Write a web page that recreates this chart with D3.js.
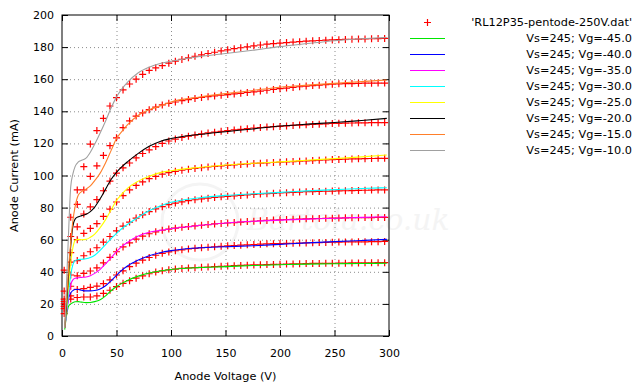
<!DOCTYPE html>
<html>
<head>
<meta charset="utf-8">
<script src="https://cdn.jsdelivr.net/npm/d3@7"></script>
<style>
body { margin: 0; background: #fff; }
text { font-family: "DejaVu Sans", Verdana, sans-serif; }
</style>
</head>
<body>
<div id="chart"></div>
<script>
// Constantes

const width = 640
const height = 387
const margin = {top: 15, bottom: 51, left: 62, right: 251}

// Datos

const xTicks = [0, 50, 100, 150, 200, 250, 300]
const yTicks = [0, 20, 40, 60, 80, 100, 120, 140, 160, 180, 200]

// tensiones de las medidas (cruces)
const measV = [2, 8, 14, 20, 26, 32, 38, 44, 50, 56, 62, 68, 74, 80, 86, 92, 98, 104, 110, 116,
  122, 128, 134, 140, 146, 152, 158, 164, 170, 176, 182, 188, 194, 200, 206, 212, 218, 224, 230, 236,
  242, 248, 254, 260, 266, 272, 278, 284, 290, 296]

const measG45 = [14, 23, 24, 24.3, 24.3, 25, 26.5, 28.5, 30.8, 32.8, 34.5, 36, 37.5, 38.8, 39.8, 40.6, 41.2, 41.7, 42.1, 42.4,
  42.6, 42.8, 43, 43.2, 43.4, 43.6, 43.8, 44, 44.1, 44.3, 44.4, 44.5, 44.6, 44.7, 44.8, 44.9, 45, 45.1, 45.2, 45.2,
  45.3, 45.3, 45.4, 45.4, 45.5, 45.5, 45.6, 45.6, 45.7, 45.7]
const measG40 = [17, 25, 29, 29.5, 30.3, 31.1, 32.6, 35, 38, 40.6, 43.2, 45.4, 47.3, 48.9, 50.3, 51.5, 52.4, 53.1, 53.7, 54.2,
  54.6, 55, 55.3, 55.6, 55.9, 56.2, 56.4, 56.6, 56.8, 57, 57.2, 57.4, 57.5, 57.6, 57.7, 57.8, 57.9, 58, 58.1, 58.2,
  58.3, 58.4, 58.5, 58.6, 58.6, 58.7, 58.7, 58.8, 58.8, 58.9]
const measG35 = [18.5, 31, 37.5, 39, 40.5, 42.5, 45.5, 49, 52.5, 55.5, 58, 60.3, 62.2, 63.7, 64.9, 65.9, 66.6, 67.2, 67.7, 68.2,
  68.6, 69, 69.4, 69.8, 70.1, 70.4, 70.7, 71, 71.3, 71.5, 71.8, 72, 72.2, 72.4, 72.6, 72.7, 72.9, 73, 73.1, 73.2,
  73.3, 73.4, 73.5, 73.6, 73.7, 73.7, 73.8, 73.8, 73.9, 73.9]
const measG30 = [20, 38, 47, 50, 52.5, 55, 58.5, 62, 65.5, 68.5, 71, 73.5, 75.5, 77.5, 79.2, 80.6, 81.8, 82.8, 83.6, 84.3,
  84.9, 85.4, 85.9, 86.3, 86.7, 87, 87.3, 87.6, 87.9, 88.2, 88.5, 88.7, 88.9, 89.1, 89.3, 89.5, 89.7, 89.9, 90, 90.1,
  90.2, 90.3, 90.4, 90.5, 90.6, 90.7, 90.8, 90.9, 91, 91]
const measG25 = [21.5, 46, 60, 64, 67, 70, 74.5, 79, 83.5, 87.5, 91, 93.8, 96, 98, 99.5, 100.8, 101.8, 102.6, 103.3, 103.9,
  104.4, 104.9, 105.3, 105.7, 106, 106.3, 106.6, 106.9, 107.2, 107.5, 107.7, 107.9, 108.1, 108.3, 108.5, 108.7, 108.9, 109.1, 109.3, 109.5,
  109.7, 109.9, 110, 110.2, 110.3, 110.4, 110.5, 110.6, 110.7, 110.7]
const measG20 = [23, 52, 68, 76, 80.5, 85, 90.5, 96.5, 101.5, 104.8, 107.8, 111, 113.7, 116, 118, 120, 121.5, 122.7, 123.7, 124.5,
  125.2, 125.9, 126.5, 127, 127.5, 128, 128.4, 128.8, 129.2, 129.6, 129.9, 130.2, 130.4, 130.6, 130.9, 131.2, 131.4, 131.6, 131.8, 132,
  132.2, 132.4, 132.5, 132.6, 132.7, 132.8, 132.8, 132.9, 132.9, 133]
const measG15 = [28, 62, 82, 91, 99.5, 106, 112.5, 118.6, 123.5, 129.8, 134, 137, 139, 141, 142.6, 144, 145, 145.8, 146.6, 147.3,
  148, 148.6, 149.1, 149.6, 150, 150.4, 150.8, 151.2, 151.7, 152.1, 152.6, 153.1, 153.6, 154.1, 154.5, 154.9, 155.3, 155.7, 156, 156.3,
  156.6, 156.9, 157.1, 157.2, 157.3, 157.4, 157.5, 157.5, 157.6, 157.6]
const measG10 = [41, 74, 91, 105.5, 119.6, 128, 135.6, 143.3, 148.5, 153.3, 157, 160, 163, 165.5, 167.1, 168.5, 170, 171.2, 172.3, 173.3,
  174.3, 175.2, 176, 176.8, 177.6, 178.3, 179, 179.6, 180.2, 180.8, 181.3, 181.8, 182.2, 182.5, 182.8, 183.1, 183.4, 183.7, 183.9, 184.1,
  184.3, 184.5, 184.6, 184.8, 184.9, 185, 185.1, 185.2, 185.3, 185.4]

// tensiones del modelo (líneas)
const modelV = [2.5, 4, 6, 8, 10, 12, 15, 18, 22, 26, 30, 35, 40, 45, 50, 55, 60, 70, 80, 90,
  100, 125, 150, 175, 200, 225, 250, 275, 298]

const modelG45 = [4, 12, 18.5, 20, 20.8, 21.3, 21.4, 21.1, 20.8, 20.9, 21.4, 22.6, 25, 28.2, 30.8, 32.8, 34.6, 37.3, 39.2, 40.5,
  41.4, 42.6, 43.2, 43.9, 44.4, 44.8, 45, 45.2, 45.3]
const modelG40 = [5, 14, 23.5, 26.8, 28.3, 29, 29, 28.5, 28.1, 28.1, 28.3, 29.3, 31.3, 34.4, 37.8, 41, 43.6, 47.3, 50, 51.9,
  53.2, 54.9, 55.6, 56.2, 57.1, 58, 58.8, 59.5, 60.2]
const modelG35 = [5, 13, 24, 32, 35, 36, 36.3, 36.5, 36.8, 37.6, 39, 41.5, 45, 48.7, 52.5, 55.8, 58.3, 62.3, 64.6, 65.8,
  66.8, 68.8, 70.4, 71.5, 72.2, 72.8, 73.4, 73.9, 74.3]
const modelG30 = [5, 14, 27, 38, 44.5, 47, 47.6, 47.8, 48.1, 48.9, 50.3, 53.3, 57, 60.5, 64, 67, 69.5, 74, 78, 81,
  83.3, 86, 87.6, 88.6, 89.5, 90.4, 91.2, 91.9, 92.4]
const modelG25 = [5, 16, 32, 46, 55, 59.5, 60.2, 60, 60.2, 61.5, 63.5, 67.5, 72.5, 78.5, 84.5, 88.5, 92, 96.5, 99.5, 101.8,
  103, 105, 106.5, 107.6, 108.5, 109.5, 110.5, 111.6, 112.8]
const modelG20 = [5, 18, 38, 56, 68.5, 72.8, 74.3, 75, 75.8, 77.5, 80.3, 85.5, 91.5, 97.5, 102, 105.5, 108.5, 113.8, 118.2, 121.2,
  123, 125.5, 127.3, 129, 130.8, 132, 133, 134.3, 135.6]
const modelG15 = [5, 22, 42, 58, 72, 80.5, 87.8, 90, 91.5, 93.5, 96.8, 101.5, 108, 115.5, 123, 127.5, 131.5, 137.5, 141, 143.3,
  145.8, 148.8, 151, 153, 155, 156.3, 157.4, 158.5, 159.5]
const modelG10 = [5, 30, 64, 93, 101, 105.5, 108.5, 109.5, 110.8, 114.5, 119.5, 126.5, 134, 142, 149, 154, 158, 164, 167.5, 169.8,
  171.2, 174, 176, 178, 180.3, 182.2, 184, 185.2, 186]

const dataLabel = "'RL12P35-pentode-250V.dat'"
const curveLabels = ["Vs=245; Vg=-45.0", "Vs=245; Vg=-40.0", "Vs=245; Vg=-35.0", "Vs=245; Vg=-30.0",
  "Vs=245; Vg=-25.0", "Vs=245; Vg=-20.0", "Vs=245; Vg=-15.0", "Vs=245; Vg=-10.0"]
const curveColors = ["#00e600", "#0000ff", "#ff00ff", "#00ffff", "#ffff00", "#000000", "#ff7f2a", "#a0a0a0"]

const measured = [measG45, measG40, measG35, measG30, measG25, measG20, measG15, measG10]
const models = [modelG45, modelG40, modelG35, modelG30, modelG25, modelG20, modelG15, modelG10]

// svg y grupos

const svg = d3.select("#chart").append("svg").attr("width", width).attr("height", height)
svg.append("rect").attr("width", width).attr("height", height).attr("fill", "#fff")

const x = d3.scaleLinear().domain([0, 300]).range([margin.left, width - margin.right])
const y = d3.scaleLinear().domain([0, 200]).range([height - margin.bottom, margin.top])
const plotW = width - margin.left - margin.right
const plotH = height - margin.top - margin.bottom

// marca de agua
const wm = svg.append("g").attr("id", "watermark")
wm.append("circle").attr("cx", 200).attr("cy", 222).attr("r", 38)
  .attr("fill", "none").attr("stroke", "#f4f4f4").attr("stroke-width", 3)
wm.append("text").attr("x", 247).attr("y", 230).attr("fill", "#f4f4f4")
  .style("font-family", "'DejaVu Serif', serif").style("font-style", "italic").style("font-size", "30px")
  .text("Bartola.co.uk")

// rejilla
const gridGroup = svg.append("g").attr("id", "grid")
gridGroup.append("g").attr("transform", `translate(0,${height - margin.bottom})`)
  .call(d3.axisBottom(x).tickValues(xTicks.slice(1, -1)).tickSize(-plotH).tickFormat(""))
gridGroup.append("g").attr("transform", `translate(${margin.left},0)`)
  .call(d3.axisLeft(y).tickValues(yTicks.slice(1, -1)).tickSize(-plotW).tickFormat(""))
gridGroup.selectAll(".domain").remove()
gridGroup.selectAll("line").attr("stroke", "#8c8c8c").attr("stroke-dasharray", "1,3")

// ejes
const axisGroup = svg.append("g").attr("id", "axisGroup")
const xAxisGroup = axisGroup.append("g").attr("transform", `translate(0,${height - margin.bottom})`)
  .call(d3.axisBottom(x).tickValues(xTicks).tickSize(-6).tickPadding(13))
const xTopGroup = axisGroup.append("g").attr("transform", `translate(0,${margin.top})`)
  .call(d3.axisTop(x).tickValues(xTicks).tickSize(-6).tickFormat(""))
const yAxisGroup = axisGroup.append("g").attr("transform", `translate(${margin.left},0)`)
  .call(d3.axisLeft(y).tickValues(yTicks).tickSize(-6).tickPadding(8))
const yRightGroup = axisGroup.append("g").attr("transform", `translate(${width - margin.right},0)`)
  .call(d3.axisRight(y).tickValues(yTicks).tickSize(-6).tickFormat(""))
axisGroup.selectAll(".domain").remove()
axisGroup.selectAll("text").style("font-family", "'DejaVu Sans', Verdana, sans-serif").style("font-size", "11px").attr("fill", "#000")
axisGroup.append("rect").attr("x", margin.left).attr("y", margin.top).attr("width", plotW).attr("height", plotH)
  .attr("fill", "none").attr("stroke", "#000")

// títulos de ejes
svg.append("text").attr("x", (margin.left + width - margin.right) / 2).attr("y", 380)
  .attr("text-anchor", "middle").style("font-size", "11.3px").text("Anode Voltage (V)")
svg.append("text").attr("transform", `translate(18,${(margin.top + height - margin.bottom) / 2}) rotate(-90)`)
  .attr("text-anchor", "middle").style("font-size", "11.3px").text("Anode Current (mA)")

// cruces de medidas
const cross = "M-3.5,0H3.5M0,-3.5V3.5"
const elementGroup = svg.append("g").attr("id", "elementGroup")
measured.forEach(serie => {
  elementGroup.append("g").selectAll("path").data(serie)
    .join("path")
      .attr("d", cross)
      .attr("transform", (d, i) => `translate(${x(measV[i])},${y(d)})`)
      .attr("stroke", "#ff0000").attr("stroke-width", 1.2).attr("fill", "none")
})

// curvas del modelo
const line = d3.line().x((d, i) => x(modelV[i])).y(d => y(d)).curve(d3.curveMonotoneX)
models.forEach((serie, k) => {
  elementGroup.append("path").datum(serie)
    .attr("d", line)
    .attr("fill", "none").attr("stroke", curveColors[k]).attr("stroke-width", 1.1)
})

// leyenda
const legend = svg.append("g").attr("id", "legend")
legend.append("path").attr("d", cross).attr("transform", "translate(427.5,22.5)")
  .attr("stroke", "#ff0000").attr("stroke-width", 1.2)
legend.append("text").attr("x", 632).attr("y", 22.5).attr("dy", "0.35em").attr("text-anchor", "end")
  .style("font-size", "11.3px").text(dataLabel)
curveLabels.forEach((lab, i) => {
  const ly = 38.5 + i * 16
  legend.append("line").attr("x1", 410).attr("x2", 445).attr("y1", ly).attr("y2", ly)
    .attr("stroke", curveColors[i]).attr("stroke-width", 1.1)
  legend.append("text").attr("x", 632).attr("y", ly).attr("dy", "0.35em").attr("text-anchor", "end")
    .style("font-size", "11.3px").text(lab)
})
</script>
</body>
</html>
